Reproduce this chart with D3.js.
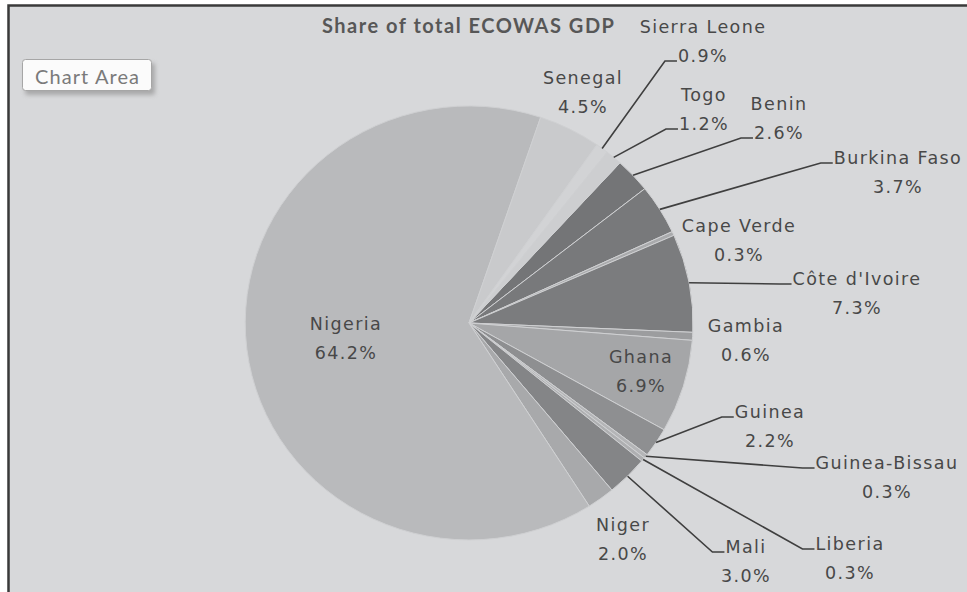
<!DOCTYPE html>
<html>
<head>
<meta charset="utf-8">
<script src="https://cdn.jsdelivr.net/npm/d3@7"></script>
<style>
  html, body { margin: 0; padding: 0; background: #ffffff; }
  svg { display: block; }
</style>
</head>
<body>
<script>
// ---------------- data ----------------
const countries = ["Benin", "Burkina Faso", "Cape Verde", "Côte d'Ivoire", "Gambia", "Ghana",
  "Guinea", "Guinea-Bissau", "Liberia", "Mali", "Niger", "Nigeria", "Senegal", "Sierra Leone", "Togo"];
const shares = [2.6, 3.7, 0.3, 7.3, 0.6, 6.9, 2.2, 0.3, 0.3, 3.0, 2.0, 64.2, 4.5, 0.9, 1.2];
const chartTitle = "Share of total ECOWAS GDP";

// ---------------- styles / layout ----------------
const sliceGrays = ["#747577", "#78797b", "#a9aaac", "#7b7c7e", "#9c9d9f", "#a5a6a8",
  "#8e8f91", "#b4b5b7", "#aeafb1", "#848587", "#a8a9ab", "#b9babc", "#c9cacc", "#d2d3d5", "#cdced0"];
// label placement: centre x, centre y of first line, which line the leader attaches to (0 = none)
const labelLayout = {
  "Benin": [779, 104, 2], "Burkina Faso": [898, 158, 1], "Cape Verde": [739, 226, 0],
  "Côte d'Ivoire": [857, 279, 1], "Gambia": [746, 326, 0], "Ghana": [641, 357, 0],
  "Guinea": [770, 412, 1], "Guinea-Bissau": [887, 463, 1], "Liberia": [850, 544, 1],
  "Mali": [746, 547, 1], "Niger": [623, 525, 0], "Nigeria": [346, 324, 0],
  "Senegal": [583, 78, 0], "Sierra Leone": [703, 27, 2], "Togo": [704, 95, 2]
};

const W = 967, H = 592;
const cx = 469, cy = 323, rx = 224, ry = 217;
const startDeg = 42.4;

const svg = d3.select("body").append("svg").attr("width", W).attr("height", H);

// chart area background + frame
svg.append("rect").attr("x", 8).attr("y", 5).attr("width", W - 8).attr("height", H - 5).attr("fill", "#d7d8da");
svg.append("path").attr("d", `M8.5,${H} L8.5,5.5 L${W},5.5`).attr("fill", "none")
  .attr("stroke", "#3a3a3a").attr("stroke-width", 2.5);

// title
svg.append("text").attr("x", 468).attr("y", 25).attr("text-anchor", "middle")
  .attr("dominant-baseline", "central")
  .attr("font-family", "Lato, 'Open Sans', sans-serif").attr("font-weight", "bold")
  .attr("font-size", 20).attr("fill", "#575757")
  .attr("textLength", 292).attr("lengthAdjust", "spacing")
  .text(chartTitle);

// "Chart Area" tooltip
const defs = svg.append("defs");
const f = defs.append("filter").attr("id", "blur").attr("x", "-20%").attr("y", "-40%").attr("width", "140%").attr("height", "180%");
f.append("feGaussianBlur").attr("stdDeviation", 2);
svg.append("rect").attr("x", 25).attr("y", 63).attr("width", 130).attr("height", 32).attr("rx", 3)
  .attr("fill", "#8a8a8a").attr("opacity", 0.6).attr("filter", "url(#blur)");
svg.append("rect").attr("x", 22.5).attr("y", 59.5).attr("width", 129).attr("height", 31).attr("rx", 3)
  .attr("fill", "#fbfbfb").attr("stroke", "#a6a6a6");
svg.append("text").attr("x", 87).attr("y", 75.5).attr("text-anchor", "middle")
  .attr("dominant-baseline", "central")
  .attr("font-family", "Lato, 'Open Sans', sans-serif").attr("font-size", 20).attr("fill", "#7a7a7a")
  .attr("textLength", 104).attr("lengthAdjust", "spacing")
  .text("Chart Area");

// pie
const data = countries.map((c, i) => ({ name: c, value: shares[i], color: sliceGrays[i] }));
const start = startDeg * Math.PI / 180;
const pie = d3.pie().sort(null).value(d => d.value).startAngle(start).endAngle(start + 2 * Math.PI);
const arcs = pie(data);
const arc = d3.arc().innerRadius(0).outerRadius(1);

const sx = d3.scaleLinear().domain([-1, 1]).range([cx - rx, cx + rx]);
const sy = d3.scaleLinear().domain([-1, 1]).range([cy - ry, cy + ry]);

const g = svg.append("g").attr("transform", `translate(${cx},${cy}) scale(${rx},${ry})`);
g.selectAll("path").data(arcs).enter().append("path")
  .attr("d", arc)
  .attr("fill", d => d.data.color)
  .attr("stroke", "#cfd0d2").attr("stroke-width", 1)
  .attr("vector-effect", "non-scaling-stroke");

// labels
const fontFam = "'DejaVu Sans', Verdana, sans-serif";
const lineGap = 29;
const labelG = svg.append("g");
arcs.forEach(d => {
  const [lx, ly, attach] = labelLayout[d.data.name];
  const t = labelG.append("text").attr("text-anchor", "middle")
    .attr("font-family", fontFam).attr("font-size", 17.5).attr("letter-spacing", 1.4)
    .attr("fill", "#484848").attr("dominant-baseline", "central");
  const l1 = t.append("tspan").attr("x", lx).attr("y", ly).text(d.data.name);
  const l2 = t.append("tspan").attr("x", lx).attr("y", ly + lineGap).text(d3.format(".1f")(d.data.value) + "%");
  if (attach) {
    const node = attach === 1 ? l1.node() : l2.node();
    const w = node.getComputedTextLength();
    const left = lx - w / 2;
    const yy = ly + (attach - 1) * lineGap + 5;
    const mid = (d.startAngle + d.endAngle) / 2;
    const px = sx(Math.sin(mid)), py = sy(-Math.cos(mid));
    const ex = left - 13;
    labelG.append("path")
      .attr("d", `M${px},${py} L${ex},${yy} L${left - 1},${yy}`)
      .attr("fill", "none").attr("stroke", "#3f3f3f").attr("stroke-width", 1.6);
  }
});
</script>
</body>
</html>
